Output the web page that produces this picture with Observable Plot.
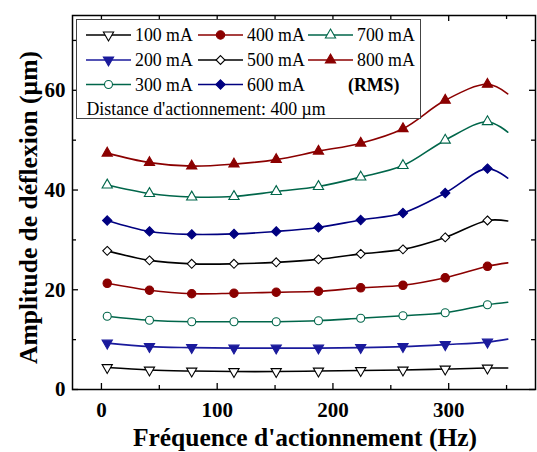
<!DOCTYPE html>
<html>
<head>
<meta charset="utf-8">
<script src="https://cdn.jsdelivr.net/npm/d3@7"></script>
<script src="https://cdn.jsdelivr.net/npm/@observablehq/plot@0.6"></script>
<style>
  html, body { margin: 0; padding: 0; background: #fff; }
  #wrap { position: relative; width: 537px; height: 452px; }
</style>
</head>
<body>
<div id="wrap"></div>
<script>
// ---- data ----
const freq = [5, 41.5, 78, 114.5, 151, 187.5, 224, 260.5, 297, 333.5];
const endFreq = 351;
const seriesNames = ["100 mA", "200 mA", "300 mA", "400 mA", "500 mA", "600 mA", "700 mA", "800 mA"];
// values at the marker frequencies, then the value at the end of the line
const v100 = [4.4, 3.9, 3.7, 3.6, 3.6, 3.7, 3.8, 3.9, 4.1, 4.3, 4.3];
const v200 = [9.3, 8.6, 8.4, 8.3, 8.3, 8.3, 8.4, 8.6, 9.0, 9.5, 10.1];
const v300 = [14.7, 13.9, 13.6, 13.6, 13.6, 13.8, 14.3, 14.8, 15.4, 17.0, 17.5];
const v400 = [21.3, 19.9, 19.2, 19.3, 19.5, 19.7, 20.4, 20.9, 22.4, 24.7, 25.4];
const v500 = [27.8, 25.9, 25.2, 25.2, 25.5, 26.1, 27.2, 28.1, 30.5, 33.9, 33.8];
const v600 = [33.9, 31.7, 31.1, 31.2, 31.7, 32.5, 34.0, 35.4, 39.4, 44.3, 42.4];
const v700 = [41.0, 39.3, 38.6, 38.7, 39.7, 40.7, 42.6, 44.9, 50.0, 53.7, 51.6];
const v800 = [47.4, 45.5, 44.8, 45.2, 46.1, 47.8, 49.4, 52.3, 58.0, 61.2, 59.3];
const seriesValues = [v100, v200, v300, v400, v500, v600, v700, v800];

const xMajor = [0, 100, 200, 300];
const xMinor = [50, 150, 250, 350];
const yMajor = [0, 20, 40, 60];
const yMinor = [10, 30, 50, 70];

const xLabel = "Fréquence d'actionnement (Hz)";
const yLabel = "Amplitude de déflexion (µm)";
const noteText = "Distance d'actionnement: 400 µm";
const rmsText = "(RMS)";

// ---- styles ----
const RED = "#8b0000", GREEN = "#00664a", BLUE = "#1a1a9c", NAVY = "#000080", BLACK = "#000";
const downTriangle = {
  draw(ctx, size) {
    const y = Math.sqrt(size / (3 * Math.sqrt(3)));
    const s3 = Math.sqrt(3);
    ctx.moveTo(0, 2 * y);
    ctx.lineTo(-s3 * y, -y);
    ctx.lineTo(s3 * y, -y);
    ctx.closePath();
  }
};
const styles = [
  {color: BLACK, symbol: downTriangle, filled: false, r: 3.8},
  {color: BLUE, symbol: downTriangle, filled: true, r: 3.8},
  {color: GREEN, symbol: d3.symbolCircle, filled: false, r: 4},
  {color: RED, symbol: d3.symbolCircle, filled: true, r: 4.2},
  {color: BLACK, symbol: d3.symbolDiamond2, filled: false, r: 4},
  {color: NAVY, symbol: d3.symbolDiamond2, filled: true, r: 4.2},
  {color: GREEN, symbol: d3.symbolTriangle, filled: false, r: 3.8},
  {color: RED, symbol: d3.symbolTriangle, filled: true, r: 3.8}
];

// ---- tables ----
const lineRows = [];
const dotRows = seriesNames.map(() => []);
seriesNames.forEach((name, k) => {
  seriesValues[k].forEach((v, i) => {
    const x = i < freq.length ? freq[i] : endFreq;
    lineRows.push({s: name, k, x, y: v});
    if (i < freq.length) dotRows[k].push({s: name, k, x, y: v});
  });
});

const W = 537, H = 452, mL = 72, mR = 2, mT = 15, mB = 63;
const innerW = W - mL - mR, innerH = H - mT - mB;
const tMaj = 6, tMin = 4;

const marks = [
  Plot.line(lineRows, {x: "x", y: "y", z: "s", stroke: d => styles[d.k].color, strokeWidth: 1.6, curve: "catmull-rom"}),
  ...dotRows.map((rows, k) => Plot.dot(rows, {
    x: "x", y: "y", symbol: () => styles[k].symbol, r: styles[k].r,
    fill: styles[k].filled ? styles[k].color : "white",
    stroke: styles[k].color, strokeWidth: 1.1
  })),
  Plot.frame({stroke: "black", strokeWidth: 1.5}),
  // inward ticks on all four sides
  Plot.tickX(xMajor, {x: d => d, insetTop: innerH - tMaj, strokeWidth: 1.3}),
  Plot.tickX(xMajor, {x: d => d, insetBottom: innerH - tMaj, strokeWidth: 1.3}),
  Plot.tickX(xMinor, {x: d => d, insetTop: innerH - tMin, strokeWidth: 1.3}),
  Plot.tickX(xMinor, {x: d => d, insetBottom: innerH - tMin, strokeWidth: 1.3}),
  Plot.tickY(yMajor, {y: d => d, insetRight: innerW - tMaj, strokeWidth: 1.3}),
  Plot.tickY(yMajor, {y: d => d, insetLeft: innerW - tMaj, strokeWidth: 1.3}),
  Plot.tickY(yMinor, {y: d => d, insetRight: innerW - tMin, strokeWidth: 1.3}),
  Plot.tickY(yMinor, {y: d => d, insetLeft: innerW - tMin, strokeWidth: 1.3}),
  Plot.axisX({ticks: xMajor, tickSize: 0, tickPadding: 13, label: null, fontSize: 21, fontWeight: "bold"}),
  Plot.axisY({ticks: yMajor, tickSize: 0, tickPadding: 7, label: null, fontSize: 21, fontWeight: "bold"}),
  Plot.text([xLabel], {frameAnchor: "bottom", dy: 48, dx: 1, text: d => d, fontSize: 25.5, fontWeight: "bold", lineAnchor: "middle", textAnchor: "middle"}),
  Plot.text([yLabel], {frameAnchor: "left", dx: -44, dy: 5, text: d => d, rotate: -90, fontSize: 25.5, fontWeight: "bold", lineAnchor: "middle", textAnchor: "middle"})
];

const chart = Plot.plot({
  width: W, height: H,
  marginLeft: mL, marginRight: mR, marginTop: mT, marginBottom: mB,
  x: {domain: [-25, 375]},
  y: {domain: [0, 75]},
  style: {fontFamily: "'Liberation Serif', 'Times New Roman', serif", color: "black", background: "white"},
  marks
});

const wrap = document.getElementById("wrap");
wrap.appendChild(chart);

// ---- legend (inside the plot area) ----
const LW = 345, LH = 100;
const lg = d3.create("svg")
  .attr("width", LW).attr("height", LH)
  .style("position", "absolute").style("left", "75.5px").style("top", "18.5px")
  .style("font-family", "'Liberation Serif', 'Times New Roman', serif");
lg.append("rect").attr("x", 0.5).attr("y", 0.5).attr("width", LW - 1).attr("height", LH - 1)
  .attr("fill", "white").attr("stroke", "#444").attr("stroke-width", 1);
const colX = [10, 122, 232];
const rowY = [16, 41, 65.5];
seriesNames.forEach((name, k) => {
  const c = Math.floor(k / 3), r = k % 3;
  const x0 = colX[c], y0 = rowY[r], st = styles[k];
  const g = lg.append("g");
  g.append("line").attr("x1", x0).attr("x2", x0 + 45).attr("y1", y0).attr("y2", y0)
    .attr("stroke", st.color).attr("stroke-width", 1.6);
  g.append("path").attr("transform", `translate(${x0 + 22.5},${y0})`)
    .attr("d", d3.symbol(st.symbol, Math.PI * st.r * st.r)())
    .attr("fill", st.filled ? st.color : "white").attr("stroke", st.color).attr("stroke-width", 1.1);
  g.append("text").attr("x", x0 + 49).attr("y", y0).attr("dy", "0.35em")
    .attr("font-size", 17.8).attr("fill", "black").text(name);
});
lg.append("text").attr("x", 272).attr("y", rowY[2]).attr("dy", "0.35em")
  .attr("font-size", 17.8).attr("font-weight", "bold").text(rmsText);
lg.append("text").attr("x", 10.5).attr("y", 90).attr("dy", "0.35em")
  .attr("font-size", 17.8).text(noteText);
wrap.appendChild(lg.node());
</script>
</body>
</html>
